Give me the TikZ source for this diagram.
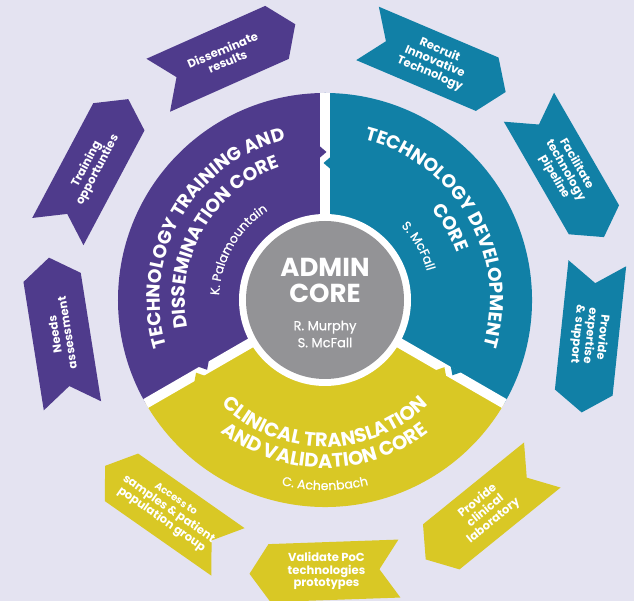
\documentclass[tikz,border=0pt]{standalone}
\usepackage{fontspec}
\setmainfont{Poppins}
\newfontfamily\namefont{Poppins}[FakeBold=0.7]
\usetikzlibrary{decorations.text}
\definecolor{bgcol}{RGB}{228,227,241}
\definecolor{purp}{RGB}{79,59,140}
\definecolor{tealcol}{RGB}{17,128,166}
\definecolor{yellcol}{RGB}{217,200,37}
\definecolor{graycol}{RGB}{147,147,150}

\tikzset{
  chevtext/.style={text=white, font=\bfseries\fontsize{11.6}{12.6}\selectfont, align=center, inner sep=0pt},
  coretext/.style={decorate, decoration={text along path, text align=center, text color=white, text={#1}}},
}

% angle, radius, colour, text rotation, node name, text
\newcommand{\chevron}[6]{%
  \begin{scope}[shift={(#1:#2)}, rotate=#1-90]
    \fill[#3] (-65,29) -- (65,29) -- (85,0) -- (65,-29) -- (-65,-29) -- (-45,0) -- cycle;
    \node[chevtext, rotate=#4] (#5) at (8,0) {#6};
  \end{scope}}

\begin{document}
\begin{tikzpicture}[x=1pt,y=1pt]
  \fill[bgcol] (-325,-301) rectangle (309,300);
  \useasboundingbox (-325,-301) rectangle (309,300);

  % the three cores
  \fill[purp] (0,0) -- (90:207) arc[start angle=90, end angle=210, radius=207] -- cycle;
  \fill[yellcol] (0,0) -- (210:207) arc[start angle=210, end angle=330, radius=207] -- cycle;
  \fill[tealcol] (0,0) -- (330:207) arc[start angle=330, end angle=450, radius=207] -- cycle;
  \foreach \a/\ccw/\cw in {90/purp/tealcol, 210/yellcol/purp, 330/tealcol/yellcol} {
    \draw[white, line width=10] (0,0) -- (\a:207);
    \fill[\ccw, rotate=\a] (142,5.5) -- (154,5.5) -- (148,-1.5) -- cycle;
    \fill[\cw, rotate=\a] (131,-5.5) -- (143,-5.5) -- (137,1.5) -- cycle;
  }

  % admin core
  \fill[white] (0,0) circle (86);
  \fill[graycol] (0,0) circle (79);
  \node[white, font=\bfseries\fontsize{26}{26}\selectfont, align=center] (admin) at (0,20) {ADMIN\\CORE};
  \node[white, font=\namefont\fontsize{13}{17}\selectfont, align=center] (adminnames) at (0,-34) {R. Murphy\\S. McFall};

  % curved titles
  \path[coretext={|\bfseries\fontsize{18.6}{18.6}\selectfont|TECHNOLOGY TRAINING AND}] (205:165) arc[start angle=205, end angle=95, radius=165];
  \path[coretext={|\bfseries\fontsize{18.6}{18.6}\selectfont|DISSEMINATION CORE}] (205:140) arc[start angle=205, end angle=95, radius=140];
  \path[coretext={|\namefont\fontsize{12.5}{12.5}\selectfont|K. Palamountain}] (205:106) arc[start angle=205, end angle=95, radius=106];

  \path[coretext={|\bfseries\fontsize{18.6}{18.6}\selectfont|TECHNOLOGY DEVELOPMENT}] (85:165) arc[start angle=85, end angle=-25, radius=165];
  \path[coretext={|\bfseries\fontsize{18.6}{18.6}\selectfont|CORE}] (85:140) arc[start angle=85, end angle=-25, radius=140];
  \path[coretext={|\namefont\fontsize{12.5}{12.5}\selectfont|S. McFall}] (85:106) arc[start angle=85, end angle=-25, radius=106];

  \path[coretext={|\bfseries\fontsize{19.5}{19.5}\selectfont|CLINICAL TRANSLATION}] (195:147) arc[start angle=195, end angle=345, radius=147];
  \path[coretext={|\bfseries\fontsize{19.5}{19.5}\selectfont|AND VALIDATION CORE}] (195:168) arc[start angle=195, end angle=345, radius=168];
  \path[coretext={|\namefont\fontsize{12.5}{12.5}\selectfont|C. Achenbach}] (195:190) arc[start angle=195, end angle=345, radius=190];

  % outer arrows
  \chevron{114}{264}{purp}{23}{dissem}{Disseminate\\results}
  \chevron{152}{268}{purp}{62}{training}{Training\\opportunties}
  \chevron{189}{266}{purp}{99}{needs}{Needs\\assessment}
  \chevron{67}{262}{tealcol}{-23}{recruit}{Recruit\\Innovative\\Technology}
  \chevron{30}{273}{tealcol}{-60}{pipeline}{Facilitate\\technology\\pipeline}
  \chevron{354}{267}{tealcol}{-96}{expertise}{Provide\\expertise\\\& support}
  \chevron{235}{262}{yellcol}{-35}{access}{\fontsize{10}{11.6}\selectfont Access to\\samples \& patient\\population group}
  \chevron{272}{271}{yellcol}{0}{validate}{Validate PoC\\technologies\\prototypes}
  \chevron{309}{265}{yellcol}{39}{clinical}{Provide\\clinical\\laboratory}
\end{tikzpicture}
\end{document}
